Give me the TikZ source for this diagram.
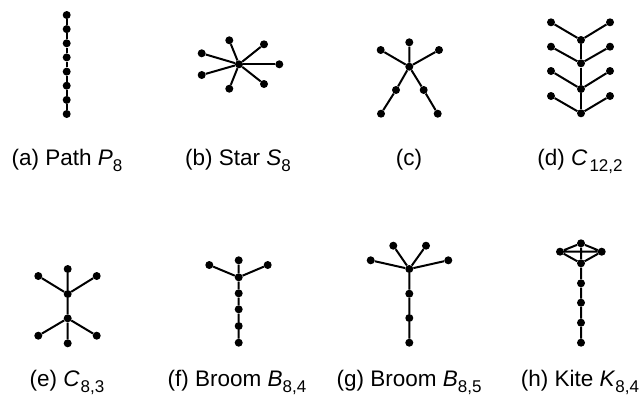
\documentclass[tikz,border=0pt]{standalone}
\usepackage{fontspec}
\setmainfont{Liberation Sans}
\newcommand{\gsub}[1]{\raisebox{-6.5pt}{\fontsize{17}{17}\selectfont #1}}
\tikzset{
  v/.style={circle,fill=black,inner sep=0pt,minimum size=8pt},
  e/.style={line width=2pt},
  lbl/.style={anchor=base,font=\fontsize{22.5}{24}\selectfont}
}
\begin{document}
\begin{tikzpicture}[x=1pt,y=-1pt]
\useasboundingbox (0,0) rectangle (640,397);

% (a) path P8
\foreach \i/\y in {1/15,2/29.1,3/43.3,4/57.4,5/71.6,6/85.7,7/99.9,8/114}
  \node[v] (a\i) at (66.7,\y) {};
\foreach \i [evaluate=\i as \j using int(\i+1)] in {1,...,7}
  \draw[e] (a\i) -- (a\j);
\node[lbl] (la) at (67,165) {(a) Path \textit{P}\gsub{8}};

% (b) star S8
\node[v] (b0) at (239,64.3) {};
\node[v] (b1) at (229.3,40.3) {};
\node[v] (b2) at (264,44.3) {};
\node[v] (b3) at (279.3,64.3) {};
\node[v] (b4) at (264,84) {};
\node[v] (b5) at (229.3,88.7) {};
\node[v] (b6) at (201.7,75) {};
\node[v] (b7) at (201.7,53.3) {};
\foreach \i in {1,...,7} \draw[e] (b0) -- (b\i);
\node[lbl] (lb) at (238,165) {(b) Star \textit{S}\gsub{8}};

% (c)
\node[v] (c0) at (409.3,66.7) {};
\node[v] (c1) at (409.3,42.3) {};
\node[v] (c2) at (380.7,50) {};
\node[v] (c3) at (439,50) {};
\node[v] (c4) at (396,90) {};
\node[v] (c5) at (381,113.7) {};
\node[v] (c6) at (423.7,90) {};
\node[v] (c7) at (437.7,113.7) {};
\draw[e] (c0) -- (c1) (c0) -- (c2) (c0) -- (c3)
         (c0) -- (c4) -- (c5) (c0) -- (c6) -- (c7);
\node[lbl] (lc) at (409,165) {(c)};

% (d) C_{12,2}
\foreach \i/\y/\ly in {1/40/22.3,2/63.3/46.7,3/89/71,4/113.3/96} {
  \node[v] (d\i) at (581,\y) {};
  \node[v] (dl\i) at (551,\ly) {};
  \node[v] (dr\i) at (610,\ly) {};
  \draw[e] (dl\i) -- (d\i) -- (dr\i);
}
\draw[e] (d1) -- (d2) -- (d3) -- (d4);
\node[lbl] (ld) at (580,165) {(d) \textit{C}\kern2pt\gsub{12,2}};

% (e) C_{8,3}
\node[v] (e1) at (67.7,294) {};
\node[v] (e2) at (67.7,318.3) {};
\node[v] (e3) at (67.7,269) {};
\node[v] (e4) at (38.3,276) {};
\node[v] (e5) at (96.7,276) {};
\node[v] (e6) at (38.3,335.7) {};
\node[v] (e7) at (96.7,335.7) {};
\node[v] (e8) at (67.7,343.3) {};
\draw[e] (e1) -- (e2) (e1) -- (e3) (e1) -- (e4) (e1) -- (e5)
         (e2) -- (e6) (e2) -- (e7) (e2) -- (e8);
\node[lbl] (le) at (67,386) {(e) \textit{C}\kern1pt\gsub{8,3}};

% (f) broom B_{8,4}
\node[v] (f0) at (238.7,277.3) {};
\node[v] (f1) at (238.7,260.3) {};
\node[v] (f2) at (209.3,265) {};
\node[v] (f3) at (267.7,265) {};
\node[v] (f4) at (238.7,293.3) {};
\node[v] (f5) at (238.7,309.3) {};
\node[v] (f6) at (238.7,326) {};
\node[v] (f7) at (238.7,342.7) {};
\draw[e] (f0) -- (f1) (f0) -- (f2) (f0) -- (f3)
         (f0) -- (f4) -- (f5) -- (f6) -- (f7);
\node[lbl] (lf) at (237,386) {(f) Broom \textit{B}\gsub{8,4}};

% (g) broom B_{8,5}
\node[v] (g0) at (409.3,269) {};
\node[v] (g1) at (393.3,245.7) {};
\node[v] (g2) at (426,245.7) {};
\node[v] (g3) at (370.7,260.3) {};
\node[v] (g4) at (448.3,260.3) {};
\node[v] (g5) at (409.3,293.7) {};
\node[v] (g6) at (409.3,318) {};
\node[v] (g7) at (409.3,342.7) {};
\draw[e] (g0) -- (g1) (g0) -- (g2) (g0) -- (g3) (g0) -- (g4)
         (g0) -- (g5) -- (g6) -- (g7);
\node[lbl] (lg) at (409,386) {(g) Broom \textit{B}\gsub{8,5}};

% (h) kite K_{8,4}
\node[v] (h1) at (581,243.3) {};
\node[v] (h2) at (560,251.7) {};
\node[v] (h3) at (601.7,251.7) {};
\node[v] (h4) at (581,263.3) {};
\node[v] (h5) at (581,283.3) {};
\node[v] (h6) at (581,302.7) {};
\node[v] (h7) at (581,322.7) {};
\node[v] (h8) at (581,342.7) {};
\draw[e] (h1) -- (h2) -- (h4) -- (h3) -- (h1) (h2) -- (h3) (h1) -- (h4)
         (h4) -- (h5) -- (h6) -- (h7) -- (h8);
\node[lbl] (lh) at (580,386) {(h) Kite \textit{K}\gsub{8,4}};
\end{tikzpicture}
\end{document}
